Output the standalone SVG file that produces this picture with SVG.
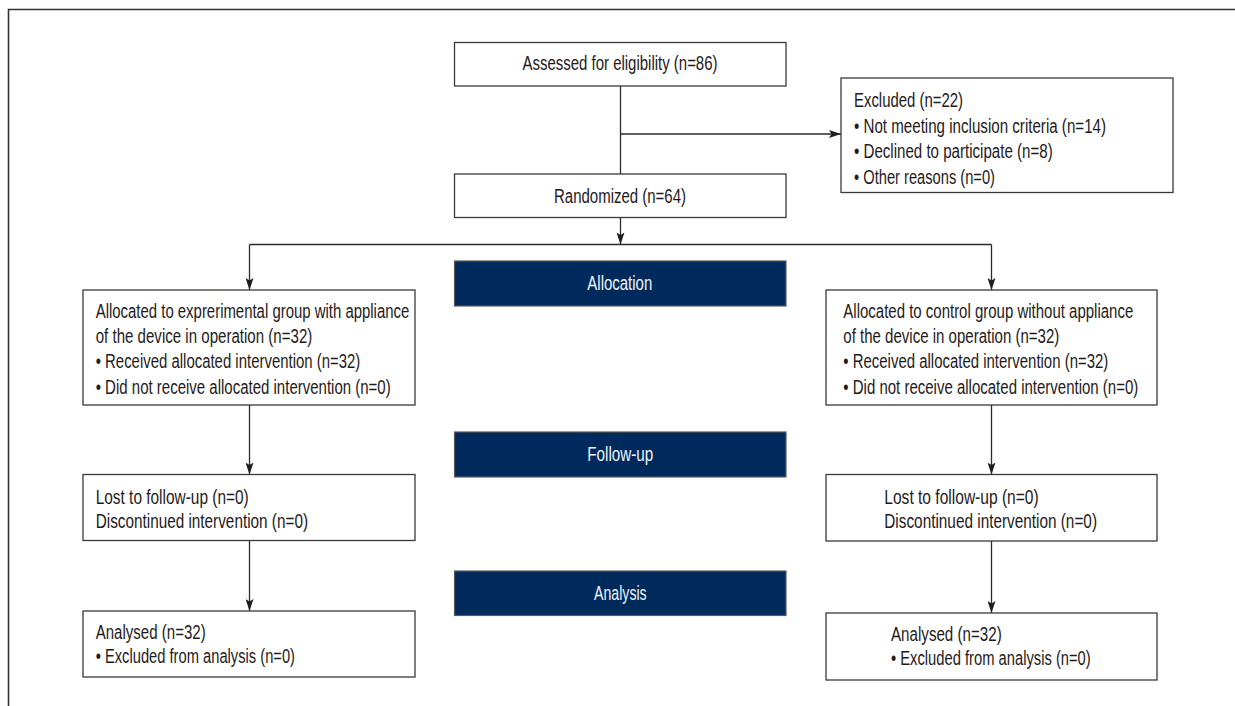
<svg xmlns="http://www.w3.org/2000/svg" width="1235" height="706" viewBox="0 0 1235 706">
<defs>
<style>
.box{fill:#fff;stroke:#3a3a3a;stroke-width:1.3}
.bar{fill:#002a5c;stroke:#5a5a5a;stroke-width:1.2}
.t{font-family:"Liberation Sans Narrow","Liberation Sans",Arial,sans-serif;font-size:19.5px;fill:#1f1b1c}
.bt{font-family:"Liberation Sans Narrow","Liberation Sans",Arial,sans-serif;font-size:19.5px;fill:#eef2f7}
.c{fill:none;stroke:#2b2b2b;stroke-width:1.3}
</style>
<marker id="ah" markerUnits="userSpaceOnUse" markerWidth="12" markerHeight="8" viewBox="0 0 12 8" refX="12" refY="4" orient="auto">
<path d="M0,0 L12,4 L0,8 L2.5,4 z" fill="#1e1e1e"/>
</marker>
</defs>
<rect width="1235" height="706" fill="#fff"/>
<path d="M8.5,706 V9.5 H1235" fill="none" stroke="#333" stroke-width="1.6"/>

<g id="connectors">
<path class="c" d="M620.5,86 V174"/>
<path class="c" d="M620.5,134 H841" marker-end="url(#ah)"/>
<path class="c" d="M620.5,217.7 V244.5" marker-end="url(#ah)"/>
<path class="c" d="M249.5,244.5 H991.5"/>
<path class="c" d="M249.5,244.5 V290" marker-end="url(#ah)"/>
<path class="c" d="M991.5,244.5 V290" marker-end="url(#ah)"/>
<path class="c" d="M249.5,405 V474.5" marker-end="url(#ah)"/>
<path class="c" d="M249.5,540.5 V611" marker-end="url(#ah)"/>
<path class="c" d="M991.5,405 V474.5" marker-end="url(#ah)"/>
<path class="c" d="M991.5,541 V613" marker-end="url(#ah)"/>
</g>

<g id="assessed">
<rect class="box" x="454.5" y="42.5" width="331.5" height="43.5"/>
<text class="t" x="522.5" y="70" textLength="195" lengthAdjust="spacingAndGlyphs">Assessed for eligibility (n=86)</text>
</g>

<g id="excluded">
<rect class="box" x="841" y="78" width="332" height="114.5"/>
<text class="t" x="854" y="107" textLength="109" lengthAdjust="spacingAndGlyphs">Excluded (n=22)</text>
<text class="t" x="854" y="132.5" textLength="252" lengthAdjust="spacingAndGlyphs">• Not meeting inclusion criteria (n=14)</text>
<text class="t" x="854" y="158" textLength="198.7" lengthAdjust="spacingAndGlyphs">• Declined to participate (n=8)</text>
<text class="t" x="854" y="183.5" textLength="141" lengthAdjust="spacingAndGlyphs">• Other reasons (n=0)</text>
</g>

<g id="randomized">
<rect class="box" x="454.5" y="174" width="331.5" height="43.5"/>
<text class="t" x="554" y="202.5" textLength="132" lengthAdjust="spacingAndGlyphs">Randomized (n=64)</text>
</g>

<g id="allocation-bar">
<rect class="bar" x="454.5" y="261" width="331.5" height="45"/>
<text class="bt" x="587.3" y="290" textLength="65" lengthAdjust="spacingAndGlyphs">Allocation</text>
</g>

<g id="alloc-exp">
<rect class="box" x="83" y="290" width="332" height="115"/>
<text class="t" x="95.7" y="317.5" textLength="313.6" lengthAdjust="spacingAndGlyphs">Allocated to exprerimental group with appliance</text>
<text class="t" x="95.7" y="342.8" textLength="216.6" lengthAdjust="spacingAndGlyphs">of the device in operation (n=32)</text>
<text class="t" x="95.7" y="368" textLength="264.6" lengthAdjust="spacingAndGlyphs">• Received allocated intervention (n=32)</text>
<text class="t" x="95.7" y="393.5" textLength="295" lengthAdjust="spacingAndGlyphs">• Did not receive allocated intervention (n=0)</text>
</g>

<g id="alloc-ctrl">
<rect class="box" x="826" y="290" width="331" height="115"/>
<text class="t" x="843.3" y="317.5" textLength="290" lengthAdjust="spacingAndGlyphs">Allocated to control group without appliance</text>
<text class="t" x="843.3" y="342.8" textLength="216" lengthAdjust="spacingAndGlyphs">of the device in operation (n=32)</text>
<text class="t" x="843.3" y="368" textLength="265" lengthAdjust="spacingAndGlyphs">• Received allocated intervention (n=32)</text>
<text class="t" x="843.3" y="393.5" textLength="295" lengthAdjust="spacingAndGlyphs">• Did not receive allocated intervention (n=0)</text>
</g>

<g id="followup-bar">
<rect class="bar" x="454.5" y="432" width="331.5" height="45"/>
<text class="bt" x="587.3" y="460.5" textLength="66" lengthAdjust="spacingAndGlyphs">Follow-up</text>
</g>

<g id="lost-exp">
<rect class="box" x="83" y="474.5" width="332" height="66"/>
<text class="t" x="95.7" y="503.5" textLength="153" lengthAdjust="spacingAndGlyphs">Lost to follow-up (n=0)</text>
<text class="t" x="95.7" y="528" textLength="212.3" lengthAdjust="spacingAndGlyphs">Discontinued intervention (n=0)</text>
</g>

<g id="lost-ctrl">
<rect class="box" x="826" y="474.5" width="331" height="66.5"/>
<text class="t" x="884.3" y="503.5" textLength="154.4" lengthAdjust="spacingAndGlyphs">Lost to follow-up (n=0)</text>
<text class="t" x="884.3" y="528" textLength="212.7" lengthAdjust="spacingAndGlyphs">Discontinued intervention (n=0)</text>
</g>

<g id="analysis-bar">
<rect class="bar" x="454.5" y="571" width="331.5" height="44.5"/>
<text class="bt" x="594" y="599.5" textLength="52.7" lengthAdjust="spacingAndGlyphs">Analysis</text>
</g>

<g id="analysed-exp">
<rect class="box" x="83" y="611" width="332" height="66"/>
<text class="t" x="95.7" y="639" textLength="110" lengthAdjust="spacingAndGlyphs">Analysed (n=32)</text>
<text class="t" x="95.7" y="663" textLength="199.3" lengthAdjust="spacingAndGlyphs">• Excluded from analysis (n=0)</text>
</g>

<g id="analysed-ctrl">
<rect class="box" x="826" y="613" width="331" height="67"/>
<text class="t" x="891" y="641" textLength="110.7" lengthAdjust="spacingAndGlyphs">Analysed (n=32)</text>
<text class="t" x="891" y="665" textLength="199.7" lengthAdjust="spacingAndGlyphs">• Excluded from analysis (n=0)</text>
</g>
</svg>
